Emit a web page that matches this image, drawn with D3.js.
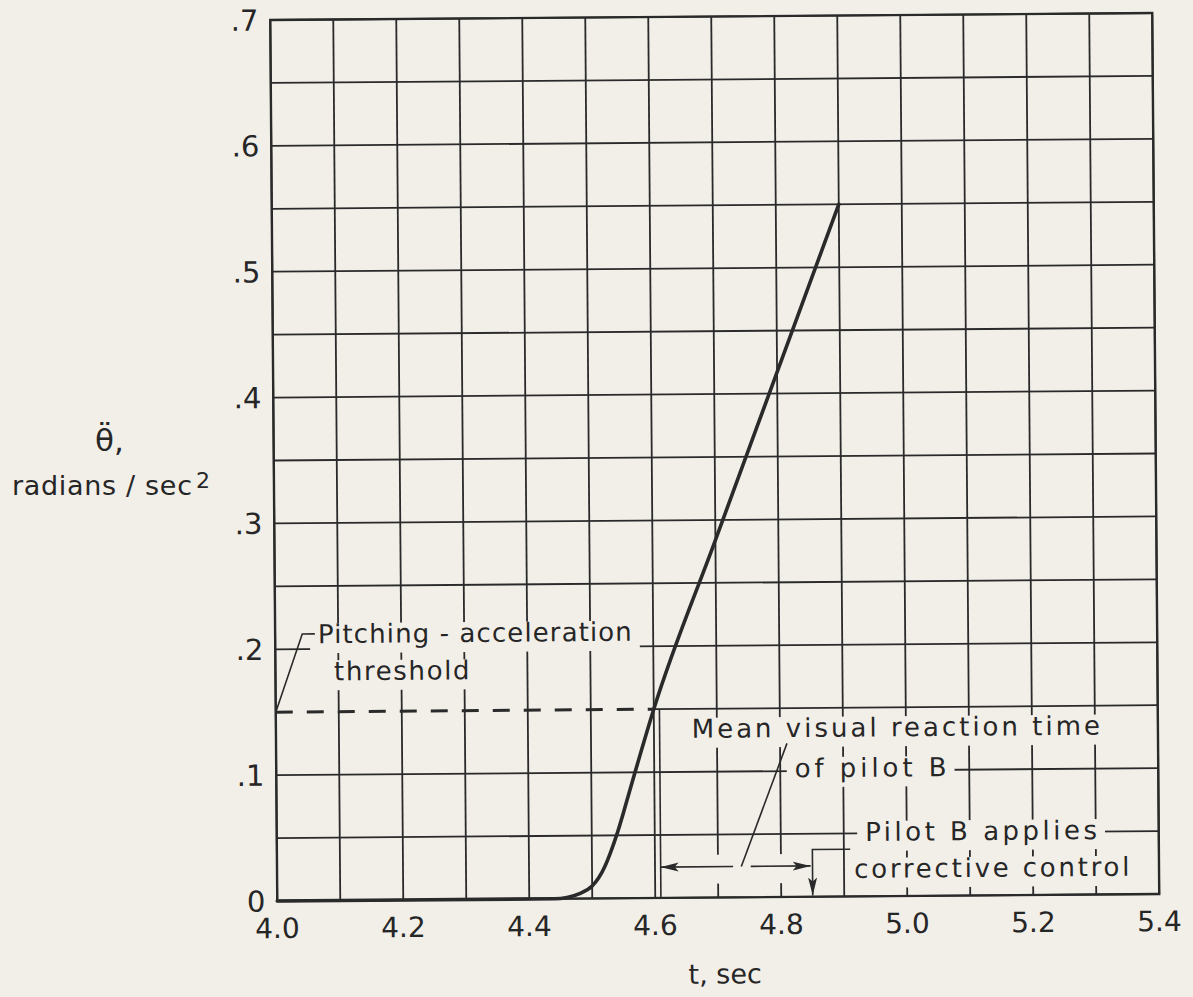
<!DOCTYPE html>
<html>
<head>
<meta charset="utf-8">
<script src="https://cdn.jsdelivr.net/npm/d3@7/dist/d3.min.js"></script>
<style>
  body { margin: 0; background: #f2efe9; }
  svg { display: block; }
  text { font-family: "DejaVu Sans", sans-serif; fill: #262626; }
</style>
</head>
<body>
<div class="chart-container"></div>
<script>
// Values.
const curveTime  = [4.0, 4.2, 4.44, 4.46,  4.48,  4.50,  4.51,  4.52,  4.53,  4.54,  4.55,  4.56,  4.60, 4.70,  4.80,  4.90];
const curveAccel = [0,   0,   0,    0.001, 0.004, 0.010, 0.016, 0.025, 0.037, 0.051, 0.067, 0.084, 0.15, 0.284, 0.417, 0.55];

const threshold = 0.15;
const thresholdEnd = 4.6;

const xTickValues = [4.0, 4.2, 4.4, 4.6, 4.8, 5.0, 5.2, 5.4];
const xTickLabels = ['4.0', '4.2', '4.4', '4.6', '4.8', '5.0', '5.2', '5.4'];
const yTickValues = [0, 0.1, 0.2, 0.3, 0.4, 0.5, 0.6, 0.7];
const yTickLabels = ['0', '.1', '.2', '.3', '.4', '.5', '.6', '.7'];

// Reaction time interval (sec)
const reactionStart = 4.609;
const reactionEnd = 4.85;

// Annotation texts, placed in data units
const notes = [
    { text: 'Pitching - acceleration',   t0: 4.068, t1: 4.566, v: 0.2046 },
    { text: 'threshold',                 t0: 4.093, t1: 4.308, v: 0.175 },
    { text: 'Mean visual reaction time', t0: 4.660, t1: 5.308, v: 0.127 },
    { text: 'of pilot B',                t0: 4.823, t1: 5.064, v: 0.095 },
    { text: 'Pilot B applies',           t0: 4.934, t1: 5.302, v: 0.044 },
    { text: 'corrective control',        t0: 4.916, t1: 5.353, v: 0.0147 },
];

// Margin convention.
const margin = { top: 16.5, left: 273.75 };
const width = 882;
const height = 881;
const ink = '#2a2a2a';
const paper = '#f2efe9';

const x = d3.scaleLinear().domain([4.0, 5.4]).range([0, width]);
const y = d3.scaleLinear().domain([0, 0.7]).range([height, 0]);

const svg = d3.select('.chart-container')
    .append('svg')
    .attr('width', 1193)
    .attr('height', 997);

svg.append('rect')
    .attr('width', 1193).attr('height', 997)
    .attr('fill', paper);

// arrow head
svg.append('defs').append('marker')
    .attr('id', 'arrow')
    .attr('viewBox', '0 -5 18 10')
    .attr('refX', 18).attr('refY', 0)
    .attr('markerUnits', 'userSpaceOnUse')
    .attr('markerWidth', 18).attr('markerHeight', 10)
    .attr('orient', 'auto-start-reverse')
    .append('path')
    .attr('d', 'M0,-4.5L18,0L0,4.5L4,0Z')
    .attr('fill', ink);

// scan is slightly tilted
const g = svg.append('g')
    .attr('transform', `rotate(-0.455, 714.75, 457) translate(${margin.left}, ${margin.top})`);

const gridLayer = g.append('g');
const knockLayer = g.append('g');
const markLayer = g.append('g');
const textLayer = g.append('g');

// Grid
gridLayer.selectAll('.grid-v')
    .data(x.ticks(14))
    .enter()
    .append('line')
    .attr('x1', d => x(d)).attr('x2', d => x(d))
    .attr('y1', 0).attr('y2', height)
    .attr('stroke', ink).attr('stroke-width', 1.8);

gridLayer.selectAll('.grid-h')
    .data(y.ticks(14))
    .enter()
    .append('line')
    .attr('x1', d => Math.abs(d - threshold) < 1e-9 ? x(thresholdEnd) : 0)
    .attr('x2', width)
    .attr('y1', d => y(d)).attr('y2', d => y(d))
    .attr('stroke', ink).attr('stroke-width', 1.8);

// Annotation texts
const noteText = textLayer.selectAll('.note')
    .data(notes)
    .enter()
    .append('text')
    .attr('class', 'note')
    .attr('x', d => x(d.t0))
    .attr('y', d => y(d.v))
    .attr('font-size', 26)
    .attr('textLength', d => x(d.t1) - x(d.t0))
    .attr('lengthAdjust', 'spacing')
    .text(d => d.text);

// knock the grid out behind the lettering
noteText.each(function() {
    const b = this.getBBox();
    knockLayer.append('rect')
        .attr('x', b.x - 8).attr('y', b.y + 4)
        .attr('width', b.width + 16).attr('height', b.height)
        .attr('fill', paper);
});

// and round the dimension arrow
knockLayer.append('rect')
    .attr('x', x(reactionStart) + 3)
    .attr('y', y(0.034))
    .attr('width', x(reactionEnd) - x(reactionStart) - 6)
    .attr('height', y(0.011) - y(0.034))
    .attr('fill', paper);

// Frame
markLayer.append('rect')
    .attr('width', width).attr('height', height)
    .attr('fill', 'none')
    .attr('stroke', ink).attr('stroke-width', 2.4);

// Threshold dashes
markLayer.append('line')
    .attr('x1', x(4.0)).attr('x2', x(thresholdEnd))
    .attr('y1', y(threshold)).attr('y2', y(threshold))
    .attr('stroke', ink).attr('stroke-width', 3)
    .attr('stroke-dasharray', '17,14');

// Curve
const line = d3.line()
    .x(d => x(d[0]))
    .y(d => y(d[1]))
    .curve(d3.curveMonotoneX);

markLayer.append('path')
    .datum(curveTime.map((t, i) => [t, curveAccel[i]]))
    .attr('d', line)
    .attr('fill', 'none')
    .attr('stroke', ink)
    .attr('stroke-width', 3.6)
    .attr('stroke-linecap', 'round')
    .attr('stroke-linejoin', 'round');

// Leaders and arrows
const leader = d3.line().x(d => x(d[0])).y(d => y(d[1]));
const thin = (pts, markStart, markEnd) => markLayer.append('path')
    .attr('d', leader(pts))
    .attr('fill', 'none')
    .attr('stroke', ink)
    .attr('stroke-width', 1.6)
    .attr('marker-start', markStart ? 'url(#arrow)' : null)
    .attr('marker-end', markEnd ? 'url(#arrow)' : null);

thin([[4.063, 0.212], [4.043, 0.212], [4.0, threshold]]);
thin([[reactionStart, threshold], [reactionStart, 0]]);
thin([[reactionStart, 0.0245], [4.724, 0.0245]], true, false);
thin([[4.752, 0.0245], [reactionEnd - 0.003, 0.0245]], false, true);
thin([[4.811, 0.122], [4.737, 0.0244]]);
thin([[4.91, 0.0375], [reactionEnd, 0.0375], [reactionEnd, 0.001]], false, true);

// Tick labels
textLayer.selectAll('.y-label')
    .data(yTickValues)
    .enter()
    .append('text')
    .attr('x', -12)
    .attr('y', d => y(d))
    .attr('dy', '0.36em')
    .attr('text-anchor', 'end')
    .attr('font-size', 29)
    .text((d, i) => yTickLabels[i]);

textLayer.selectAll('.x-label')
    .data(xTickValues)
    .enter()
    .append('text')
    .attr('x', d => x(d))
    .attr('y', height + 37)
    .attr('text-anchor', 'middle')
    .attr('font-size', 28)
    .text((d, i) => xTickLabels[i]);

// Axis titles
svg.append('text')
    .attr('x', 95).attr('y', 451)
    .attr('font-size', 31)
    .text('\u03B8\u0308,');

svg.append('text')
    .attr('x', 12).attr('y', 495)
    .attr('font-size', 27)
    .attr('textLength', 180)
    .attr('lengthAdjust', 'spacing')
    .text('radians / sec');

svg.append('text')
    .attr('x', 196).attr('y', 488)
    .attr('font-size', 22)
    .text('2');

g.append('text')
    .attr('x', x(4.71))
    .attr('y', height + 86)
    .attr('text-anchor', 'middle')
    .attr('font-size', 27)
    .text('t, sec');
</script>
</body>
</html>
